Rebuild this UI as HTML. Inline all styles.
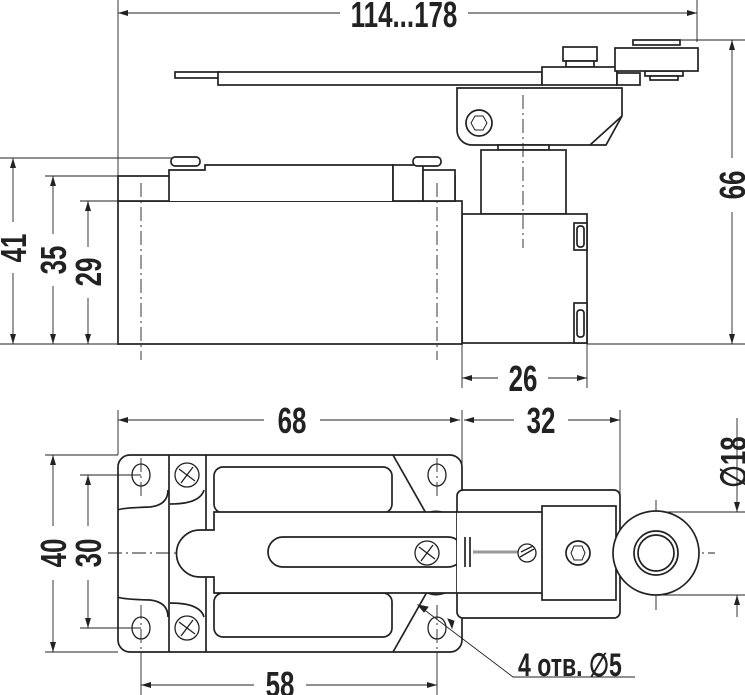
<!DOCTYPE html>
<html><head><meta charset="utf-8"><style>
html,body{margin:0;padding:0;background:#fff}
svg{display:block}
text{font-family:"Liberation Sans Narrow","Liberation Sans",sans-serif;font-size:36px;font-weight:bold;fill:#222}
</style></head><body>
<svg width="745" height="695" viewBox="0 0 745 695" xmlns="http://www.w3.org/2000/svg">
<defs>
<marker id="a" viewBox="0 0 10 6" refX="10" refY="3" markerWidth="11" markerHeight="6" orient="auto-start-reverse" markerUnits="userSpaceOnUse"><path d="M0,0L10,3L0,6z" fill="#222"/></marker>
</defs>
<g stroke="#222" fill="none" stroke-width="0.9">
<line x1="118" y1="0" x2="118" y2="345"/>
<line x1="697" y1="0" x2="697" y2="42"/>
<line x1="118" y1="13" x2="340" y2="13" marker-start="url(#a)"/>
<line x1="468" y1="13" x2="697" y2="13" marker-end="url(#a)"/>
<line x1="0" y1="158" x2="172" y2="158"/>
<line x1="45" y1="176" x2="118" y2="176"/>
<line x1="80" y1="201" x2="118" y2="201"/>
<line x1="0" y1="344" x2="140" y2="344"/>
<line x1="13" y1="158" x2="13" y2="222" marker-start="url(#a)"/>
<line x1="13" y1="273" x2="13" y2="344" marker-end="url(#a)"/>
<line x1="53" y1="176" x2="53" y2="234" marker-start="url(#a)"/>
<line x1="53" y1="286" x2="53" y2="344" marker-end="url(#a)"/>
<line x1="88" y1="201" x2="88" y2="247" marker-start="url(#a)"/>
<line x1="88" y1="298" x2="88" y2="344" marker-end="url(#a)"/>
<line x1="640" y1="40" x2="745" y2="40"/>
<line x1="587" y1="344" x2="745" y2="344"/>
<line x1="732" y1="40" x2="732" y2="158" marker-start="url(#a)"/>
<line x1="732" y1="212" x2="732" y2="344" marker-end="url(#a)"/>
<line x1="462" y1="344" x2="462" y2="388"/>
<line x1="587" y1="344" x2="587" y2="388"/>
<line x1="462" y1="378" x2="498" y2="378" marker-start="url(#a)"/>
<line x1="548" y1="378" x2="587" y2="378" marker-end="url(#a)"/>
</g>
<g stroke="#222" fill="#fff" stroke-width="1.7">
<rect x="175" y="72" width="45" height="6"/>
<rect x="218" y="72" width="324" height="13"/>
<rect x="563" y="47" width="34" height="14"/>
<rect x="566" y="61" width="28" height="6"/>
<rect x="542" y="67" width="75" height="18"/>
<rect x="617" y="73" width="23" height="12"/>
<rect x="633" y="40" width="47" height="5"/>
<rect x="645" y="71" width="38" height="5"/>
<rect x="650" y="76" width="28" height="4"/>
<rect x="615" y="48" width="83" height="23"/>
<path d="M457,88 H622 V116 L606,145 H472 A15,15 0 0 1 457,130 Z"/>
<line x1="622" y1="116" x2="590" y2="145"/>
<circle cx="479" cy="123" r="13"/>
<path d="M471,123 l4,-7 h8 l4,7 l-4,7 h-8z" stroke-width="1"/>
<rect x="498" y="145" width="51" height="5"/>
<rect x="481" y="150" width="85" height="64"/>
<rect x="462" y="214" width="125" height="129"/>
<rect x="574" y="223" width="13" height="27"/>
<rect x="577" y="226" width="7" height="21" rx="3"/>
<rect x="574" y="303" width="13" height="40"/>
<rect x="577" y="310" width="7" height="27" rx="3"/>
<rect x="118" y="201" width="344" height="143"/>
<rect x="118" y="176" width="337" height="25"/>
<path d="M169,201 V170 H205 V165 H393 V201" />
<rect x="393" y="165" width="30" height="36"/>
<rect x="423" y="170" width="32" height="31"/>
<rect x="171" y="157" width="29" height="9" rx="4"/>
<rect x="413" y="157" width="28" height="9" rx="4"/>
</g>
<g stroke="#222" stroke-width="0.9" fill="none" stroke-dasharray="14,4,2,4">
<line x1="141" y1="183" x2="141" y2="360"/>
<line x1="437" y1="183" x2="437" y2="360"/>
<line x1="523" y1="95" x2="523" y2="248"/>
<line x1="108" y1="553" x2="715" y2="553"/>
<line x1="141" y1="458" x2="141" y2="500"/>
<line x1="437" y1="458" x2="437" y2="500"/>
<line x1="141" y1="605" x2="141" y2="650"/>
<line x1="437" y1="605" x2="437" y2="650"/>
<line x1="656" y1="500" x2="656" y2="610"/>
</g>
<g stroke="#222" fill="none" stroke-width="0.9">
<line x1="118" y1="410" x2="118" y2="455"/>
<line x1="462" y1="410" x2="462" y2="490"/>
<line x1="620" y1="410" x2="620" y2="510"/>
<line x1="118" y1="420" x2="264" y2="420" marker-start="url(#a)"/>
<line x1="320" y1="420" x2="460" y2="420" marker-end="url(#a)"/>
<line x1="464" y1="420" x2="514" y2="420" marker-start="url(#a)"/>
<line x1="568" y1="420" x2="620" y2="420" marker-end="url(#a)"/>
<line x1="45" y1="455" x2="118" y2="455"/>
<line x1="80" y1="475" x2="141" y2="475"/>
<line x1="80" y1="628" x2="141" y2="628"/>
<line x1="45" y1="652" x2="118" y2="652"/>
<line x1="53" y1="455" x2="53" y2="526" marker-start="url(#a)"/>
<line x1="53" y1="580" x2="53" y2="652" marker-end="url(#a)"/>
<line x1="88" y1="475" x2="88" y2="526" marker-start="url(#a)"/>
<line x1="88" y1="580" x2="88" y2="628" marker-end="url(#a)"/>
<line x1="141" y1="652" x2="141" y2="695"/>
<line x1="437" y1="652" x2="437" y2="695"/>
<line x1="141" y1="685" x2="254" y2="685" marker-start="url(#a)"/>
<line x1="306" y1="685" x2="437" y2="685" marker-end="url(#a)"/>
<line x1="660" y1="512" x2="745" y2="512"/>
<line x1="660" y1="595" x2="745" y2="595"/>
<line x1="737" y1="490" x2="737" y2="512" marker-end="url(#a)"/>
<line x1="737" y1="617" x2="737" y2="595" marker-end="url(#a)"/>
<line x1="737" y1="418" x2="737" y2="490"/>
<polyline points="418,605 513,677 635,677"/>
<path d="M418,605 l10,2 l-4,5z" fill="#222"/>
<path d="M452,628 l-4,-9 l6,2z" fill="#222"/>
</g>
<g stroke="#222" fill="none" stroke-width="1.7">
<rect x="118" y="455" width="344" height="197" rx="12"/>
<line x1="169" y1="455" x2="169" y2="652"/>
<line x1="206" y1="455" x2="206" y2="652"/>
<path d="M118,510 Q120,508 150,507 Q168,505 168,490"/>
<path d="M118,597 Q120,599 150,600 Q168,602 168,617"/>
<path d="M170,504 Q200,504 204,490"/>
<path d="M170,603 Q200,603 204,617"/>
<line x1="393" y1="455" x2="427" y2="515"/>
<line x1="393" y1="652" x2="427" y2="592"/>
<rect x="214" y="467" width="178" height="46" rx="9"/>
<rect x="214" y="593" width="178" height="44" rx="9"/>
<path d="M422,518 Q430,508 445,513 Q458,518 458,530"/>
<path d="M422,588 Q430,598 445,593 Q458,588 458,576"/>
<path d="M542,512 H214 V530 H200 A23,23 0 0 0 200,577 H214 V593 H542" fill="#fff"/>
<rect x="268" y="537" width="195" height="30" rx="15" fill="#fff"/>
<rect x="457" y="490" width="163" height="128" rx="6" fill="#fff"/>
<rect x="457" y="512" width="85" height="81" stroke="none" fill="#fff"/>
<line x1="457" y1="512" x2="542" y2="512"/>
<line x1="457" y1="593" x2="542" y2="593"/>
<line x1="465" y1="537" x2="465" y2="567"/>
<line x1="470" y1="537" x2="470" y2="567"/>
<line x1="473" y1="552" x2="520" y2="552" stroke-width="3" stroke="#999"/>
<rect x="542" y="506" width="74" height="94" fill="#fff"/>
<circle cx="578" cy="553" r="12"/>
<path d="M571,553 l3,-7 h8 l3,7 l-3,7 h-8z" stroke-width="1"/>
<ellipse cx="656" cy="553" rx="43" ry="42" fill="#fff"/>
<circle cx="656" cy="553" r="22"/>
<circle cx="656" cy="553" r="18"/>
<g stroke-width="1.3">
<ellipse cx="141" cy="475" rx="9" ry="11"/>
<ellipse cx="437" cy="475" rx="9" ry="11"/>
<ellipse cx="141" cy="628" rx="9" ry="11"/>
<ellipse cx="437" cy="628" rx="9" ry="11"/>
<circle cx="187" cy="475" r="12"/><path d="M179,469 l16,12 M181,483 l12,-16"/>
<circle cx="187" cy="628" r="12"/><path d="M179,622 l16,12 M181,636 l12,-16"/>
<circle cx="427" cy="553" r="12" fill="#fff"/><path d="M419,547 l16,12 M421,561 l12,-16"/>
<circle cx="527" cy="553" r="9" fill="#fff"/><path d="M520,557 l14,-8 M521,552 l12,-6"/>
</g>
</g>
<g>
<text transform="translate(404,27) scale(0.72,1)" text-anchor="middle">114...178</text>
<text transform="translate(26,248) rotate(-90) scale(0.72,1)" text-anchor="middle">41</text>
<text transform="translate(66,260) rotate(-90) scale(0.72,1)" text-anchor="middle">35</text>
<text transform="translate(101,272) rotate(-90) scale(0.72,1)" text-anchor="middle">29</text>
<text transform="translate(745,185) rotate(-90) scale(0.72,1)" text-anchor="middle">66</text>
<text transform="translate(523,391) scale(0.72,1)" text-anchor="middle">26</text>
<text transform="translate(292,433) scale(0.72,1)" text-anchor="middle">68</text>
<text transform="translate(541,433) scale(0.72,1)" text-anchor="middle">32</text>
<text transform="translate(66,553) rotate(-90) scale(0.72,1)" text-anchor="middle">40</text>
<text transform="translate(101,553) rotate(-90) scale(0.72,1)" text-anchor="middle">30</text>
<text transform="translate(280,697) scale(0.72,1)" text-anchor="middle">58</text>
<text transform="translate(746,462) rotate(-90) scale(0.72,1)" text-anchor="middle">∅18</text>
<text transform="translate(518,676) scale(0.72,1)" style="font-size:32px">4 отв. ∅5</text>
</g>
</svg>
</body></html>
